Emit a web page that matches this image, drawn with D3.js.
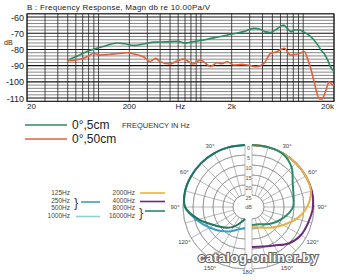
<!DOCTYPE html>
<html>
<head>
<meta charset="utf-8">
<script src="https://cdn.jsdelivr.net/npm/d3@7"></script>
<style>
  body { margin: 0; background: #fff; }
  text { font-family: "Liberation Sans", Arial, sans-serif; }
</style>
</head>
<body>
<div id="main"></div>
<script>
const ctx = { w: 341, h: 280 };

// frequency response
const greenFreq = [52, 60, 70, 83, 100, 120, 150, 180, 220, 280, 350, 450, 600, 700, 800, 1000, 1300, 1700, 2100, 2600, 3300, 3800, 4200, 4800, 5500, 6400, 7000, 7600, 8300, 9000, 10000, 11000, 12500, 13800, 15000, 16000, 17200, 18600, 20000];
const greenDb = [-86, -84.5, -82.5, -80.5, -79, -77.5, -76, -76.5, -77.5, -76.5, -75.5, -75.3, -75, -76, -75.5, -74.5, -73, -71.5, -70.3, -69, -67, -67.5, -69, -69.5, -67.5, -65, -67, -69, -68, -67.8, -69, -70.5, -73.5, -77, -80.5, -82.5, -86, -91, -93.5];
const redFreq = [49, 60, 71, 80, 89, 104, 130, 160, 190, 230, 275, 320, 360, 400, 500, 590, 680, 760, 830, 990, 1110, 1240, 1440, 1600, 1810, 2100, 2500, 2860, 3440, 4140, 4810, 5500, 6550, 7530, 8800, 10300, 11000, 12000, 12900, 14400, 15300, 16500, 18000, 19000, 20000];
const redDb = [-87, -86.5, -85.5, -84, -82.5, -83.5, -83, -82.5, -82, -83, -84.5, -87.5, -85.5, -87.5, -89, -87, -86, -87.5, -89, -86.5, -88.5, -90.5, -88.2, -88.8, -87.6, -89.6, -89.2, -89.6, -90.7, -88.6, -82.4, -81.5, -79.3, -83.5, -82.8, -81.4, -85.5, -93, -101, -110.5, -110.5, -106, -100, -101.5, -102];

const yTicks = [-60, -70, -80, -90, -100, -110];
const xLabels = [[20, "20"], [200, "200"], [632, "Hz"], [2000, "2k"], [20000, "20k"]];
const title = "B : Frequency Response, Magn db re 10.00Pa/V";

// polar pattern: angle (deg from front) and attenuation in dB
const polarAngles = [0, 15, 30, 45, 60, 75, 90, 105, 120, 135, 150, 165, 180];
const leftTeal = [0, 0, 0, 0, 0, 0, 1, 7, 13, 16.5, 19.5, 23, 25];
const leftBlue = [0, 0, 0, 0, 0, 0, 1, 6, 10.5, 14, 17, 19.5, 20.5];
const rightGreen = [0, 0, 0.3, 3, 7.5, 9.5, 10.5, 13.5, 16.5, 19, 21, 22, 22];
const rightPurple = [0, 0, 0, 0, 0, 0, 0.5, 1.8, 2.8, 5.2, 8.8, 10.5, 11];
const rightYellow = [0, 0, 0, 0, 0, 0.5, 3.5, 8, 13, 16.5, 19, 20.5, 21];
const ringDb = [0, 5, 10, 15, 20, 25];
const angleLabels = [30, 60, 90, 120, 150];

const legendLow = ["125Hz", "250Hz", "500Hz", "1000Hz"];
const legendHigh = ["2000Hz", "4000Hz", "8000Hz", "16000Hz"];

const GREEN = "#2c8c62", RED = "#e2623a";
const TEAL = "#23745f", BLUE = "#3a9ec4", CYAN = "#8fd0d4", YELLOW = "#e8b243", PURPLE = "#6b2a7c", PGREEN = "#2a8a68";

const svg = d3.select("#main").append("svg").attr("width", ctx.w).attr("height", ctx.h);

//==============================================================================================
// frequency response chart
const x = d3.scaleLog().domain([20, 20000]).range([27, 334]);
const y = d3.scaleLinear().domain([-58, -112]).range([13.8, 101.3]);

const gridG = svg.append("g");
d3.range(-112, -57, 2).forEach(v => {
    const major = v % 10 === 0;
    gridG.append("line")
        .attr("x1", x(20)).attr("x2", x(20000))
        .attr("y1", y(v)).attr("y2", y(v))
        .attr("stroke", major ? "#111" : "#444")
        .attr("stroke-width", major ? 1.1 : 0.65);
});
x.ticks().forEach(f => {
    gridG.append("line")
        .attr("x1", x(f)).attr("x2", x(f))
        .attr("y1", y(-58)).attr("y2", y(-112))
        .attr("stroke", "#222").attr("stroke-width", 0.8);
});
gridG.append("rect")
    .attr("x", x(20)).attr("y", y(-58))
    .attr("width", x(20000) - x(20)).attr("height", y(-112) - y(-58))
    .attr("fill", "none").attr("stroke", "#111").attr("stroke-width", 1);

svg.append("g").selectAll("text").data(yTicks).enter().append("text")
    .attr("x", 24).attr("y", d => y(d) + 3.5)
    .attr("text-anchor", "end").attr("font-size", 9).attr("fill", "#222")
    .text(d => d);

svg.append("text").attr("x", 4).attr("y", 45).attr("font-size", 7).attr("fill", "#222").text("dB");

svg.append("g").selectAll("text").data(xLabels).enter().append("text")
    .attr("x", d => x(d[0]))
    .attr("y", 109)
    .attr("text-anchor", (d, i) => i === 0 ? "start" : (i === xLabels.length - 1 ? "end" : "middle"))
    .attr("font-size", 8).attr("fill", "#222")
    .text(d => d[1]);

svg.append("text").attr("x", 27).attr("y", 10).attr("font-size", 8).attr("fill", "#222")
    .attr("textLength", 183).text(title);

const line = d3.line().x(d => x(d[0])).y(d => y(d[1])).curve(d3.curveMonotoneX);
svg.append("path").datum(d3.zip(greenFreq, greenDb))
    .attr("d", line).attr("fill", "none").attr("stroke", GREEN).attr("stroke-width", 1.6);
svg.append("path").datum(d3.zip(redFreq, redDb))
    .attr("d", line).attr("fill", "none").attr("stroke", RED).attr("stroke-width", 1.6);

// legend of the response chart
const leg = [["0°,5cm", GREEN, 125], ["0°,50cm", RED, 139]];
leg.forEach(l => {
    svg.append("line").attr("x1", 25).attr("x2", 67).attr("y1", l[2]).attr("y2", l[2])
        .attr("stroke", l[1]).attr("stroke-width", 1.5);
    svg.append("text").attr("x", 72).attr("y", l[2] + 4).attr("font-size", 12)
        .attr("fill", "#222").text(l[0]);
});
svg.append("text").attr("x", 122).attr("y", 127.5).attr("font-size", 7.5)
    .attr("font-family", "DejaVu Sans").attr("fill", "#333")
    .text("FREQUENCY IN Hz");

//==============================================================================================
// polar diagram, drawn as two halves with a gap
const cy = 207;
const r = d3.scaleLinear().domain([0, 25]).range([62, 12]);
const halves = [{ cx: 245, side: -1 }, { cx: 252, side: 1 }];

halves.forEach(h => {
    const g = svg.append("g").attr("transform", `translate(${h.cx},${cy})`);
    ringDb.forEach(db => {
        g.append("path")
            .attr("d", d3.arc()({ innerRadius: r(db), outerRadius: r(db), startAngle: 0, endAngle: h.side * Math.PI }))
            .attr("fill", "none").attr("stroke", "#8a8a8a").attr("stroke-width", 0.6);
    });
    d3.range(0, 181, 15).forEach(a => {
        const t = h.side * a * Math.PI / 180;
        g.append("line")
            .attr("x1", Math.sin(t) * r(25)).attr("y1", -Math.cos(t) * r(25))
            .attr("x2", Math.sin(t) * r(0)).attr("y2", -Math.cos(t) * r(0))
            .attr("stroke", "#8a8a8a").attr("stroke-width", 0.6);
    });
    angleLabels.forEach(a => {
        const t = h.side * a * Math.PI / 180;
        g.append("text")
            .attr("x", Math.sin(t) * 70).attr("y", -Math.cos(t) * 70 + 2)
            .attr("text-anchor", "middle").attr("font-size", 6).attr("fill", "#444")
            .text(a + "°");
    });
});

const ringLabelG = svg.append("g");
ringDb.forEach(db => {
    ringLabelG.append("text").attr("x", 248.5).attr("y", cy - r(db) + 5)
        .attr("text-anchor", "middle").attr("font-size", 5.5).attr("fill", "#555").text(db);
});
ringLabelG.append("text").attr("x", 248.5).attr("y", 209).attr("text-anchor", "middle")
    .attr("font-size", 5.5).attr("fill", "#555").text("dB");
ringLabelG.append("text").attr("x", 248.5).attr("y", 274).attr("text-anchor", "middle")
    .attr("font-size", 6).attr("fill", "#444").text("180°");

const polarCurves = [
    { cx: 245, side: -1, vals: leftBlue, color: BLUE },
    { cx: 245, side: -1, vals: leftTeal, color: TEAL },
    { cx: 252, side: 1, vals: rightPurple, color: PURPLE },
    { cx: 252, side: 1, vals: rightYellow, color: YELLOW },
    { cx: 252, side: 1, vals: rightGreen, color: PGREEN }
];
polarCurves.forEach(c => {
    const radial = d3.lineRadial()
        .angle(d => c.side * d[0] * Math.PI / 180)
        .radius(d => r(d[1]))
        .curve(d3.curveCatmullRom);
    svg.append("path").datum(d3.zip(polarAngles, c.vals))
        .attr("transform", `translate(${c.cx},${cy})`)
        .attr("d", radial).attr("fill", "none").attr("stroke", c.color).attr("stroke-width", 2);
});

// polar legend
const lowY = [193, 201, 208, 216];
legendLow.forEach((t, i) => {
    svg.append("text").attr("x", 70).attr("y", lowY[i] + 2).attr("text-anchor", "end")
        .attr("font-size", 6.5).attr("fill", "#444").text(t);
});
legendHigh.forEach((t, i) => {
    svg.append("text").attr("x", 135).attr("y", lowY[i] + 2).attr("text-anchor", "end")
        .attr("font-size", 6.5).attr("fill", "#444").text(t);
});
svg.append("text").attr("x", 74).attr("y", 207).attr("font-size", 13).attr("fill", "#444").text("}");
svg.append("text").attr("x", 139).attr("y", 217).attr("font-size", 13).attr("fill", "#444").text("}");
const swatches = [[81, 100, 202, BLUE], [76, 100, 216.5, CYAN], [140, 165, 193, YELLOW], [140, 165, 201.5, PURPLE], [145, 165, 211, PGREEN]];
swatches.forEach(s => {
    svg.append("line").attr("x1", s[0]).attr("x2", s[1]).attr("y1", s[2]).attr("y2", s[2])
        .attr("stroke", s[3]).attr("stroke-width", 1.6);
});

// watermark
svg.append("text").attr("x", 198).attr("y", 262).attr("font-size", 13).attr("font-weight", "bold")
    .attr("textLength", 120).attr("fill", "#fff").attr("stroke", "#666").attr("stroke-width", 2.2)
    .attr("paint-order", "stroke").text("catalog.onliner.by");
</script>
</body>
</html>
